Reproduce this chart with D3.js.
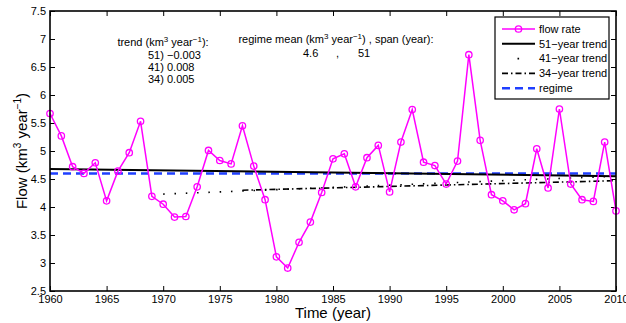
<!DOCTYPE html>
<html>
<head>
<meta charset="utf-8">
<script src="https://cdn.jsdelivr.net/npm/d3@7"></script>
<style>
  body { margin: 0; background: #fff; }
  svg { font-family: "Liberation Sans", Arial, sans-serif; }
</style>
</head>
<body>
<div id="chart"></div>
<script>
// Yearly flow values
const years = d3.range(1960, 2011);
const flow = [
  5.67, 5.27, 4.72, 4.60, 4.79, 4.11, 4.64, 4.97, 5.53, 4.19,
  4.05, 3.82, 3.83, 4.36, 5.01, 4.83, 4.77, 5.45, 4.73, 4.13,
  3.11, 2.91, 3.37, 3.73, 4.26, 4.86, 4.95, 4.36, 4.88, 5.10,
  4.27, 5.16, 5.74, 4.80, 4.74, 4.41, 4.82, 6.72, 5.19, 4.22,
  4.11, 3.95, 4.06, 5.04, 4.34, 5.75, 4.41, 4.13, 4.10, 5.16,
  3.93
];

// Trend line end points [year, value]
const trend51 = [[1960, 4.68], [2010, 4.55]];
const trend41 = [[1970, 4.23], [2010, 4.55]];
const trend34 = [[1977, 4.30], [2010, 4.47]];
const regime = [[1960, 4.60], [2010, 4.60]];

const xTicks = d3.range(1960, 2011, 5);
const yTicks = d3.range(2.5, 7.51, 0.5);

const trendLabels = ["51) \u22120.003", "41) 0.008", "34) 0.005"];

const width = 626, height = 323;
const margin = { top: 11, right: 10, bottom: 32, left: 50 };

const svg = d3.select("#chart").append("svg")
  .attr("width", width)
  .attr("height", height);

const x = d3.scaleLinear().domain([1960, 2010]).range([margin.left, width - margin.right]);
const y = d3.scaleLinear().domain([2.5, 7.5]).range([height - margin.bottom, margin.top]);

// Axes with inward ticks on all four sides
const tick = 5;
svg.append("g")
  .attr("transform", `translate(0,${y(2.5)})`)
  .call(d3.axisBottom(x).tickValues(xTicks).tickFormat(d3.format("d")).tickSizeInner(-tick).tickSizeOuter(0).tickPadding(4))
  .call(g => g.select(".domain").remove());
svg.append("g")
  .attr("transform", `translate(0,${y(7.5)})`)
  .call(d3.axisTop(x).tickValues(xTicks).tickFormat("").tickSizeInner(-tick).tickSizeOuter(0))
  .call(g => g.select(".domain").remove());
svg.append("g")
  .attr("transform", `translate(${x(1960)},0)`)
  .call(d3.axisLeft(y).tickValues(yTicks).tickFormat(d => d3.format("")(d)).tickSizeInner(-tick).tickSizeOuter(0).tickPadding(4))
  .call(g => g.select(".domain").remove());
svg.append("g")
  .attr("transform", `translate(${x(2010)},0)`)
  .call(d3.axisRight(y).tickValues(yTicks).tickFormat("").tickSizeInner(-tick).tickSizeOuter(0))
  .call(g => g.select(".domain").remove());

svg.selectAll(".tick text").attr("font-size", 11).attr("fill", "#000").attr("font-family", "Liberation Sans, Arial, sans-serif");
svg.selectAll(".tick line").attr("stroke", "#000");

// lines
const line = d3.line().x(d => x(d[0])).y(d => y(d[1]));

svg.append("path").datum(regime)
  .attr("d", line).attr("fill", "none")
  .attr("stroke", "#1f3fff").attr("stroke-width", 2.5).attr("stroke-dasharray", "8,5");

svg.append("path").datum(trend51)
  .attr("d", line).attr("fill", "none")
  .attr("stroke", "#000").attr("stroke-width", 2);

svg.append("path").datum(trend41)
  .attr("d", line).attr("fill", "none")
  .attr("stroke", "#000").attr("stroke-width", 1.6).attr("stroke-dasharray", "1.5,9.8");

svg.append("path").datum(trend34)
  .attr("d", line).attr("fill", "none")
  .attr("stroke", "#000").attr("stroke-width", 1.6).attr("stroke-dasharray", "6,3,1.5,3");

const flowData = years.map((yr, i) => [yr, flow[i]]);
svg.append("path").datum(flowData)
  .attr("d", line).attr("fill", "none")
  .attr("stroke", "#ff00ff").attr("stroke-width", 1.5);

svg.selectAll("circle.pt")
  .data(flowData)
  .join("circle")
  .attr("class", "pt")
  .attr("cx", d => x(d[0]))
  .attr("cy", d => y(d[1]))
  .attr("r", 3.2)
  .attr("fill", "none")
  .attr("stroke", "#ff00ff")
  .attr("stroke-width", 1.3);

// frame
svg.append("rect")
  .attr("x", x(1960)).attr("y", y(7.5))
  .attr("width", x(2010) - x(1960)).attr("height", y(2.5) - y(7.5))
  .attr("fill", "none").attr("stroke", "#000").attr("stroke-width", 1.6);

// axis labels
svg.append("text")
  .attr("x", (x(1960) + x(2010)) / 2).attr("y", 318)
  .attr("text-anchor", "middle").attr("font-size", 15)
  .text("Time (year)");

const yl = svg.append("text")
  .attr("transform", `translate(27,${(y(2.5) + y(7.5)) / 2}) rotate(-90)`)
  .attr("text-anchor", "middle").attr("font-size", 15);
yl.append("tspan").text("Flow (km");
yl.append("tspan").attr("dy", -6).attr("font-size", 10).text("3");
yl.append("tspan").attr("dy", 6).text(" year");
yl.append("tspan").attr("dy", -6).attr("font-size", 10).text("\u22121");
yl.append("tspan").attr("dy", 6).text(")");

// annotations
const t1 = svg.append("text").attr("x", 163).attr("y", 46)
  .attr("text-anchor", "middle").attr("font-size", 11);
t1.append("tspan").text("trend (km");
t1.append("tspan").attr("dy", -4).attr("font-size", 8).text("3");
t1.append("tspan").attr("dy", 4).text(" year");
t1.append("tspan").attr("dy", -4).attr("font-size", 8).text("\u22121");
t1.append("tspan").attr("dy", 4).text("):");

svg.selectAll("text.trend")
  .data(trendLabels)
  .join("text")
  .attr("class", "trend")
  .attr("x", 148)
  .attr("y", (d, i) => 59 + i * 12)
  .attr("font-size", 11)
  .text(d => d);

const t2 = svg.append("text").attr("x", 336).attr("y", 43)
  .attr("text-anchor", "middle").attr("font-size", 11);
t2.append("tspan").text("regime mean (km");
t2.append("tspan").attr("dy", -4).attr("font-size", 8).text("3");
t2.append("tspan").attr("dy", 4).text(" year");
t2.append("tspan").attr("dy", -4).attr("font-size", 8).text("\u22121");
t2.append("tspan").attr("dy", 4).text(") ,  span (year):");

svg.append("text").attr("x", 303).attr("y", 57).attr("font-size", 11).text("4.6");
svg.append("text").attr("x", 336).attr("y", 57).attr("font-size", 11).text(",");
svg.append("text").attr("x", 358).attr("y", 57).attr("font-size", 11).text("51");

// legend
const legendItems = [
  { label: "flow rate", color: "#ff00ff", width: 1.5, dash: null, marker: true },
  { label: "51\u2212year trend", color: "#000", width: 2, dash: null },
  { label: "41\u2212year trend", color: "#000", width: 1.6, dash: "0,15.5,1.6,20" },
  { label: "34\u2212year trend", color: "#000", width: 1.6, dash: "6,3,1.5,3" },
  { label: "regime", color: "#1f3fff", width: 2.5, dash: "8,5" }
];

const lg = svg.append("g");
lg.append("rect")
  .attr("x", 495).attr("y", 17).attr("width", 114).attr("height", 82)
  .attr("fill", "#fff").attr("stroke", "#000").attr("stroke-width", 1.2);

const rows = lg.selectAll("g.row")
  .data(legendItems)
  .join("g")
  .attr("class", "row")
  .attr("transform", (d, i) => `translate(0,${29 + i * 14.8})`);

rows.append("line")
  .attr("x1", 502).attr("x2", 535)
  .attr("stroke", d => d.color)
  .attr("stroke-width", d => d.width)
  .attr("stroke-dasharray", d => d.dash);

rows.filter(d => d.marker).append("circle")
  .attr("cx", 518.5).attr("r", 3.2)
  .attr("fill", "none").attr("stroke", "#ff00ff").attr("stroke-width", 1.3);

rows.append("text")
  .attr("x", 539).attr("dy", "0.35em")
  .attr("font-size", 11)
  .text(d => d.label);
</script>
</body>
</html>
